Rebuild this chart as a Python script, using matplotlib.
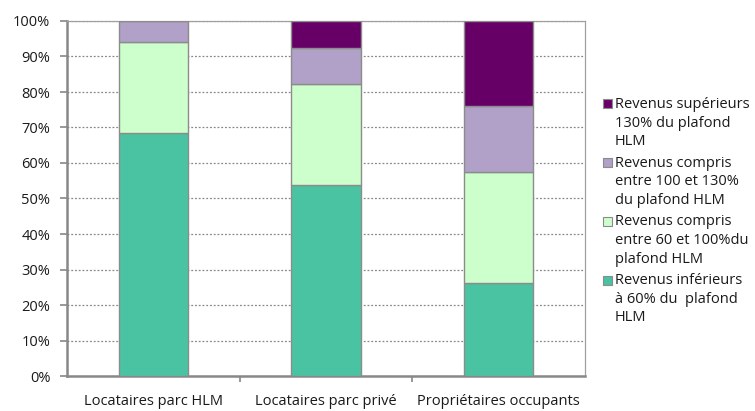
import matplotlib
matplotlib.use("Agg")
import matplotlib.pyplot as plt
from matplotlib.patches import Rectangle
from matplotlib.ticker import FuncFormatter

plt.rcParams['font.family'] = ['Open Sans', 'DejaVu Sans']

categories = ["Locataires parc HLM", "Locataires parc privé", "Propriétaires occupants"]
inf60 = [68.4, 53.8, 26.1]
r60_100 = [25.6, 28.5, 31.3]
r100_130 = [6.0, 10.2, 18.7]
sup130 = [0.0, 7.5, 23.9]

series = [inf60, r60_100, r100_130, sup130]
labels = [
    "Revenus inférieurs\nà 60% du  plafond\nHLM",
    "Revenus compris\nentre 60 et 100%du\nplafond HLM",
    "Revenus compris\nentre 100 et 130%\ndu plafond HLM",
    "Revenus supérieurs\n130% du plafond\nHLM",
]
colors = ["#4AC3A2", "#CCFFCC", "#B1A0C7", "#660066"]

fig = plt.figure(figsize=(7.55, 4.11), dpi=100)
ax = fig.add_axes([67/755, 35/411, (585-67)/755, (376-21)/411])

x = list(range(len(categories)))
bottom = [0.0] * len(categories)
for vals, col in zip(series, colors):
    ax.bar(x, vals, width=0.4, bottom=bottom, color=col, edgecolor="#8C8C8C",
           linewidth=1.0, zorder=3)
    bottom = [b + v for b, v in zip(bottom, vals)]

ax.set_xlim(-0.5, 2.5)
ax.set_ylim(0, 100)
ax.set_yticks(range(0, 101, 10))
ax.yaxis.set_major_formatter(FuncFormatter(lambda v, p: f"{int(v)}%"))
ax.tick_params(axis='y', length=5, width=1.2, color="#888888", pad=7,
               labelsize=10.5, labelcolor="#1A1A1A")

ax.set_xticks([0.5, 1.5])
ax.set_xticklabels([])
ax.tick_params(axis='x', which='major', length=4, width=1.2, color="#888888", direction='out')
ax.set_xticks(x, minor=True)
ax.set_xticklabels(categories, minor=True)
ax.tick_params(axis='x', which='minor', length=0, pad=13, labelsize=10.5, labelcolor="#1A1A1A")

ax.grid(axis='y', linestyle=(0, (1.5, 1.5)), color="#888888", linewidth=0.9, zorder=0)
ax.set_axisbelow(True)

for s in ['left', 'bottom']:
    ax.spines[s].set_color("#888888")
    ax.spines[s].set_linewidth(1.8)
for s in ['top', 'right']:
    ax.spines[s].set_color("#A0A0A0")
    ax.spines[s].set_linewidth(0.9)

# legend (reversed order, purple on top)
W, H = 755, 411
y0 = 104
step = 58.7
for i, (lab, col) in enumerate(zip(labels[::-1], colors[::-1])):
    yc = y0 + i * step
    fig.patches.append(Rectangle((603/W, 1 - (yc + 4.5)/H), 9/W, 9/H,
                                 transform=fig.transFigure, facecolor=col,
                                 edgecolor="#8C8C8C", linewidth=0.8))
    fig.text(615/W, 1 - (yc - 7)/H, lab, ha='left', va='top', fontsize=10.5,
             color="#1A1A1A", linespacing=1.33)

fig.savefig("out.png", dpi=100)
